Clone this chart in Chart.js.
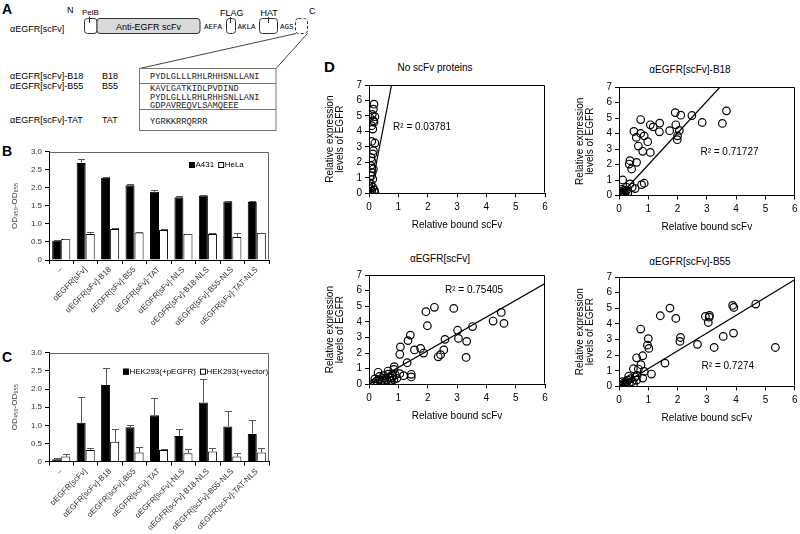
<!DOCTYPE html>
<html><head><meta charset="utf-8">
<script src="https://cdn.jsdelivr.net/npm/chart.js@4.4.1/dist/chart.umd.min.js"></script>
<style>
html,body{margin:0;padding:0;background:#fff;overflow:hidden}
#page{position:relative;width:800px;height:534px;font-family:'Liberation Sans',Arial,sans-serif;overflow:hidden}
canvas{position:absolute}
.ttl{position:absolute;font-size:10px;line-height:1;white-space:nowrap;transform:translateX(-50%);color:#000}
</style></head><body><div id="page">
<svg width="800" height="534" style="position:absolute;left:0;top:0" font-family="'Liberation Sans',Arial,sans-serif">
  <text x="2" y="14" font-size="14" font-weight="bold">A</text>
  <text x="2" y="156" font-size="14" font-weight="bold">B</text>
  <text x="2" y="362" font-size="14" font-weight="bold">C</text>
  <text x="324" y="72" font-size="15" font-weight="bold">D</text>
  <text x="67" y="13.2" font-size="9">N</text>
  <text x="82" y="15.2" font-size="8">PelB</text>
  <text x="220" y="16.2" font-size="9">FLAG</text>
  <text x="260.5" y="16.2" font-size="9">HAT</text>
  <text x="309" y="14.2" font-size="9">C</text>
  <text x="10" y="31.7" font-size="9">αEGFR[scFv]</text>
  <rect x="84.5" y="18.5" width="12.5" height="15" rx="3" fill="#fff" stroke="#333"/>
  <rect x="97" y="18.5" width="103" height="15" rx="3" fill="#d9d9d9" stroke="#333"/>
  <text x="148.5" y="29.5" font-size="9" text-anchor="middle">Anti-EGFR scFv</text>
  <text x="204" y="29.2" font-size="7.5" font-family="'Liberation Mono','Courier New',monospace">AEFA</text>
  <rect x="226.5" y="18.5" width="9" height="15" rx="3" fill="#fff" stroke="#333"/>
  <text x="237.5" y="29.2" font-size="7.5" font-family="'Liberation Mono','Courier New',monospace">AKLA</text>
  <rect x="259.5" y="18.5" width="18" height="15" rx="3" fill="#fff" stroke="#333"/>
  <text x="280" y="29.2" font-size="7.5" font-family="'Liberation Mono','Courier New',monospace">AGS</text>
  <rect x="295.5" y="18.5" width="12" height="15" rx="3" fill="none" stroke="#333" stroke-dasharray="3,2"/>
  <line x1="89.5" y1="16.5" x2="89.5" y2="23" stroke="#333"/>
  <line x1="230.5" y1="17" x2="230.5" y2="23" stroke="#333"/>
  <line x1="268.5" y1="17" x2="268.5" y2="23" stroke="#333"/>
  <line x1="296" y1="33.5" x2="139.5" y2="68.5" stroke="#444"/>
  <line x1="307.5" y1="33.5" x2="276" y2="68.5" stroke="#444"/>
  <rect x="139.5" y="68.5" width="136.5" height="62" fill="#fff" stroke="#777"/>
  <line x1="139.5" y1="83.5" x2="276" y2="83.5" stroke="#777"/>
  <line x1="139.5" y1="109.5" x2="276" y2="109.5" stroke="#777"/>
  <text x="10" y="79.2" font-size="9">αEGFR[scFv]-B18</text>
  <text x="102" y="79.2" font-size="9">B18</text>
  <text x="10" y="88.7" font-size="9">αEGFR[scFv]-B55</text>
  <text x="102" y="88.7" font-size="9">B55</text>
  <text x="10" y="123.2" font-size="9">αEGFR[scFv]-TAT</text>
  <text x="102" y="123.2" font-size="9">TAT</text>
  <g font-size="8.7" font-family="'Liberation Mono','Courier New',monospace" fill="#222">
    <text x="150" y="79">PYDLGLLLRHLRHHSNLLANI</text>
    <text x="150" y="91.3">KAVLGATKIDLPVDIND</text>
    <text x="150" y="99.7">PYDLGLLLRHLRHHSNLLANI</text>
    <text x="150" y="107.5">GDPAVREQVLSAMQEEE</text>
    <text x="150" y="123.7">YGRKKRRQRRR</text>
  </g>
</svg>
<canvas id="cB"></canvas>
<canvas id="cC"></canvas>
<canvas id="d1"></canvas>
<canvas id="d2"></canvas>
<canvas id="d3"></canvas>
<canvas id="d4"></canvas>
<div class="ttl" style="left:435px;top:62.8px">No scFv proteins</div>
<div class="ttl" style="left:690px;top:65px">αEGFR[scFv]-B18</div>
<div class="ttl" style="left:440px;top:254.4px">αEGFR[scFv]</div>
<div class="ttl" style="left:690px;top:256.8px">αEGFR[scFv]-B55</div>
</div>
<script>
// ---------------- DATA ----------------
const categoriesB = ['–','αEGFR[sFv]','αEGFR[sFv]-B18','αEGFR[sFv]-B55','αEGFR[sFv]-TAT','αEGFR[sFv]-NLS','αEGFR[sFv]-B18-NLS','αEGFR[sFv]-B55-NLS','αEGFR[sFv]-TAT-NLS'];
const a431Values = [0.535, 2.69, 2.28, 2.07, 1.89, 1.74, 1.79, 1.62, 1.61];
const a431Errors = [0.01, 0.11, 0.03, 0.03, 0.05, 0.04, 0.01, 0.01, 0.02];
const helaValues = [0.58, 0.72, 0.86, 0.76, 0.83, 0.72, 0.72, 0.64, 0.75];
const helaErrors = [0.01, 0.06, 0.04, 0.01, 0.02, 0.01, 0.04, 0.10, 0.01];

const categoriesC = ['–','αEGFR[scFv]','αEGFR[scFv]-B18','αEGFR[scFv]-B55','αEGFR[scFv]-TAT','αEGFR[scFv]-NLS','αEGFR[scFv]-B18-NLS','αEGFR[scFv]-B55-NLS','αEGFR[scFv]-TAT-NLS'];
const pegfrValues = [0.07, 1.07, 2.11, 0.95, 1.28, 0.71, 1.63, 0.97, 0.76];
const pegfrErrors = [0.02, 0.72, 0.48, 0.07, 0.48, 0.18, 0.65, 0.42, 0.39];
const vectorValues = [0.14, 0.32, 0.55, 0.25, 0.32, 0.23, 0.28, 0.14, 0.25];
const vectorErrors = [0.08, 0.06, 0.34, 0.15, 0.04, 0.11, 0.10, 0.11, 0.14];

const odTickStep = 0.5;
const seriesNamesB = ['A431', 'HeLa'];
const seriesNamesC = ['HEK293(+pEGFR)', 'HEK293(+vector)'];

const pointsNoScFv = [[0.17,5.76],[0.15,5.44],[0.11,5.1],[0.2,4.95],[0.03,4.9],[0.15,4.69],[0.09,4.37],[0.13,4.15],[0.09,3.35],[0.2,3.25],[0.15,2.75],[0.13,2.54],[0.09,2.1],[0.06,1.78],[0.15,1.57],[0.09,1.14],[0.13,0.92],[0.07,0.6],[0.13,0.39],[0.18,0.22],[0.2,0.06],[0.03,0.06],[0.09,0.15],[0.05,0.3],[0.11,1.35],[0.07,2.3],[0.17,4.6],[0.04,0.02]];
const pointsB18 = [[3.67,5.46],[3.53,4.65],[2.84,4.71],[2.49,5.16],[1.92,5.35],[2.11,5.18],[1.94,4.56],[2.06,4.2],[1.73,4.18],[2.0,3.85],[1.99,3.6],[1.39,4.67],[1.17,4.43],[1.07,4.56],[1.38,4.11],[0.74,4.9],[0.51,4.13],[0.74,4.0],[0.86,3.85],[0.59,3.75],[0.98,3.47],[0.66,3.19],[0.81,2.85],[1.07,2.78],[0.375,2.25],[0.35,2.03],[0.6,2.14],[0.43,1.71],[0.125,1.0],[0.86,0.79],[0.77,0.7],[0.375,0.75],[0.45,0.53],[0.26,0.53],[0.55,0.45],[0.05,0.05],[0.08,0.1],[0.1,0.15],[0.12,0.05],[0.15,0.2],[0.2,0.1],[0.06,0.25],[0.25,0.3],[0.03,0.02],[0.18,0.35],[0.3,0.15],[0.1,0.4]];
const pointsScFv = [[2.89,4.86],[2.23,4.93],[1.94,4.65],[1.99,3.75],[4.51,4.6],[4.23,4.05],[4.6,3.9],[3.53,3.7],[3.02,3.46],[3.05,2.94],[2.59,2.88],[3.33,2.75],[2.55,2.2],[2.44,1.9],[2.36,1.76],[3.31,1.72],[1.41,3.15],[1.33,2.8],[1.07,2.4],[1.05,1.92],[1.55,2.2],[1.76,2.3],[1.86,2.0],[1.3,1.38],[0.86,1.13],[1.44,0.64],[1.44,0.47],[1.18,0.55],[1.05,0.68],[0.31,0.77],[0.65,0.85],[0.85,0.95],[0.95,0.38],[0.78,0.4],[0.2,0.1],[0.25,0.2],[0.3,0.05],[0.35,0.3],[0.4,0.15],[0.45,0.25],[0.5,0.4],[0.55,0.1],[0.6,0.3],[0.7,0.45],[0.75,0.25],[0.2,0.35],[0.15,0.05],[0.8,0.55],[0.9,0.6],[0.65,0.65],[0.5,0.55],[0.35,0.5],[0.85,0.3]];
const pointsB55 = [[5.34,2.49],[4.67,5.27],[3.88,5.18],[3.92,5.05],[3.91,3.41],[3.56,3.2],[3.25,2.49],[3.09,4.54],[2.95,4.48],[3.08,4.43],[3.05,4.09],[2.68,2.69],[2.1,3.13],[2.08,2.88],[1.94,4.35],[1.74,5.01],[1.41,4.52],[1.57,1.49],[0.74,3.67],[1.0,3.05],[0.97,2.64],[1.02,2.43],[0.81,1.96],[0.6,1.83],[0.75,1.39],[0.49,1.13],[0.66,1.11],[1.11,0.79],[0.86,0.96],[0.81,0.53],[0.62,0.7],[0.33,0.65],[0.05,0.05],[0.1,0.1],[0.15,0.2],[0.2,0.15],[0.25,0.3],[0.3,0.4],[0.35,0.2],[0.4,0.5],[0.45,0.3],[0.5,0.15],[0.55,0.6],[0.6,0.4],[0.12,0.3],[0.08,0.02],[0.2,0.05]];

const trendNoScFv = [[0.05,0],[0.77,7]];
const trendB18 = [[0.03,0],[3.45,7]];
const trendScFv = [[0,0],[6,6.45]];
const trendB55 = [[0,0],[6,6.82]];

const r2Texts = ['R² = 0.03781','R² = 0.71727','R² = 0.75405','R² = 0.7274'];
const xTitleD = 'Relative bound scFv';
const yTitleD = ['Relative expression','levels of EGFR'];
const yTitleOD = 'OD₄₅₀-OD₆₅₅';

// ---------------- RENDER ----------------
const FAM = "'Liberation Sans', Arial, sans-serif";
Chart.defaults.font.family = FAM;
Chart.defaults.color = '#000';
Chart.defaults.animation = false;

function setupCanvas(id, left, top, w, h){
  const c = document.getElementById(id);
  c.width = w; c.height = h;
  c.style.left = left+'px'; c.style.top = top+'px';
  c.style.width = w+'px'; c.style.height = h+'px';
  return c;
}
function makeFrame(color){
  return {id:'frame', afterDatasetsDraw(chart){
    const a = chart.chartArea, ctx = chart.ctx;
    const L = Math.round(a.left)+0.5, R = Math.round(a.right)-0.5, T = Math.round(a.top)+0.5, B = Math.round(a.bottom)-0.5;
    ctx.save(); ctx.strokeStyle = color; ctx.lineWidth = 1; ctx.beginPath();
    ctx.moveTo(L,T); ctx.lineTo(R,T); ctx.lineTo(R,B);
    ctx.stroke(); ctx.restore();
  }};
}
function makeErrorBars(errs, color, cap){
  return {id:'errorBars', afterDatasetsDraw(chart){
    const ctx = chart.ctx, ys = chart.scales.y;
    ctx.save(); ctx.strokeStyle = color; ctx.lineWidth = 1;
    errs.forEach((arr, di) => {
      const meta = chart.getDatasetMeta(di), vals = chart.data.datasets[di].data;
      meta.data.forEach((bar, i) => {
        const e = arr[i]; if (!e) return;
        const x = Math.round(bar.x)+0.5;
        const y0 = ys.getPixelForValue(vals[i]);
        const y1 = Math.round(ys.getPixelForValue(vals[i]+e))+0.5;
        ctx.beginPath(); ctx.moveTo(x,y0); ctx.lineTo(x,y1);
        ctx.moveTo(x-cap,y1); ctx.lineTo(x+cap,y1); ctx.stroke();
      });
    });
    ctx.restore();
  }};
}
function makeLegend(dx, dy, size){
  return {id:'customLegend', afterDraw(chart){
    const ctx = chart.ctx, a = chart.chartArea;
    let x = a.left+dx; const y = a.top+dy;
    ctx.save(); ctx.font = size+'px '+FAM; ctx.textBaseline = 'middle'; ctx.textAlign = 'left';
    chart.data.datasets.forEach(ds => {
      ctx.fillStyle = ds.backgroundColor; ctx.fillRect(x, y-3, 6, 6);
      ctx.strokeStyle = '#000'; ctx.lineWidth = 1; ctx.strokeRect(x+0.5, y-2.5, 5, 5);
      x += 6.5; ctx.fillStyle = '#000'; ctx.fillText(ds.label, x, y);
      x += ctx.measureText(ds.label).width + 4;
    });
    ctx.restore();
  }};
}
function makeNote(text, vx, vy){
  return {id:'note', afterDatasetsDraw(chart){
    const ctx = chart.ctx;
    const x = chart.scales.x.getPixelForValue(vx), y = chart.scales.y.getPixelForValue(vy);
    ctx.save(); ctx.font = '10px '+FAM; ctx.fillStyle = '#000'; ctx.textBaseline = 'middle'; ctx.textAlign = 'left';
    ctx.fillText(text, x, y); ctx.restore();
  }};
}

function barChart(id, left, top, w, h, padTop, xH, cats, names, vals, errs, legendPos, legendSize){
  const c = setupCanvas(id, left, top, w, h);
  new Chart(c, {
    type:'bar',
    data:{labels:cats, datasets:[
      {label:names[0], data:vals[0], backgroundColor:'#000', borderColor:'#000', borderWidth:1, categoryPercentage:0.74, barPercentage:1},
      {label:names[1], data:vals[1], backgroundColor:'#fff', borderColor:'#000', borderWidth:1, categoryPercentage:0.74, barPercentage:1}
    ]},
    options:{
      responsive:false, animation:false, devicePixelRatio:1,
      layout:{padding:{top:padTop, right:3, left:0, bottom:0}},
      plugins:{legend:{display:false}, tooltip:{enabled:false}},
      scales:{
        x:{grid:{offset:true, drawOnChartArea:false, tickLength:4, color:'#000'}, border:{color:'#000'},
           ticks:{autoSkip:false, maxRotation:45, minRotation:45, font:{size:8}, color:'#333', padding:1},
           afterFit:s=>{s.height = xH;}},
        y:{min:0, max:3, ticks:{stepSize:odTickStep, font:{size:8}, color:'#333', padding:3},
           grid:{drawOnChartArea:false, tickLength:4, color:'#000'}, border:{color:'#000'},
           title:{display:true, text:yTitleOD, font:{size:8, lineHeight:1}, color:'#333', padding:{top:11, bottom:0}},
           afterFit:s=>{s.width = 49;}}
      }
    },
    plugins:[makeFrame('#666'), makeErrorBars(errs, '#555', 3.5), makeLegend(legendPos[0], legendPos[1], legendSize)]
  });
}

barChart('cB', 0, 140, 272, 210, 11.7, 90, categoriesB, seriesNamesB, [a431Values, helaValues], [a431Errors, helaErrors], [140, 13.3], 8);
barChart('cC', 0, 340, 272, 194, 12.7, 72.3, categoriesC, seriesNamesC, [pegfrValues, vectorValues], [pegfrErrors, vectorErrors], [74, 19], 8);

function scatterChart(id, plot, pts, trend, note, notePos){
  const [pl, pt, pr, pb] = plot;
  const yW = 51, padT = 10, padR = 10, xH = 42.5;
  const left = pl - yW, top = pt - padT, w = Math.round(pr - pl + yW + padR), h = Math.round(pb - pt + padT + xH);
  const c = setupCanvas(id, left, top, w, h);
  const xHeight = h - padT - (pb - pt);
  new Chart(c, {
    type:'scatter',
    data:{datasets:[
      {data:pts.map(p=>({x:p[0], y:p[1]})), pointRadius:3.8, pointBorderWidth:1.2, pointBackgroundColor:'rgba(255,255,255,0)', pointBorderColor:'#000', showLine:false},
      {type:'line', data:trend.map(p=>({x:p[0], y:p[1]})), borderColor:'#000', borderWidth:1.2, pointRadius:0, showLine:true, fill:false}
    ]},
    options:{
      responsive:false, animation:false, devicePixelRatio:1,
      layout:{padding:{top:padT, right:w - yW - (pr - pl), left:0, bottom:0}},
      plugins:{legend:{display:false}, tooltip:{enabled:false}},
      scales:{
        x:{type:'linear', min:0, max:6, ticks:{stepSize:1, font:{size:10}, color:'#000', padding:4},
           grid:{drawOnChartArea:false, tickLength:4, color:'#000'}, border:{color:'#000'},
           title:{display:true, text:xTitleD, font:{size:10, lineHeight:1.07}, color:'#000', padding:{top:0, bottom:5.65}},
           afterFit:s=>{s.height = xHeight;}},
        y:{type:'linear', min:0, max:7, ticks:{stepSize:1, font:{size:10}, color:'#000', padding:3},
           grid:{drawOnChartArea:false, tickLength:4, color:'#000'}, border:{color:'#000'},
           title:{display:true, text:yTitleD, font:{size:10, lineHeight:1.07}, color:'#000', padding:{top:6.65, bottom:0}},
           afterFit:s=>{s.width = yW;}}
      }
    },
    plugins:[makeFrame('#000'), makeNote(note, notePos[0], notePos[1])]
  });
}

scatterChart('d1', [369, 84.5, 545, 192.8], pointsNoScFv, trendNoScFv, r2Texts[0], [0.82, 4.28]);
scatterChart('d2', [619.3, 86.5, 795, 195], pointsB18, trendB18, r2Texts[1], [2.78, 2.78]);
scatterChart('d3', [369, 274.7, 545, 384], pointsScFv, trendScFv, r2Texts[2], [2.59, 6.04]);
scatterChart('d4', [619.3, 277.3, 795, 386.7], pointsB55, trendB55, r2Texts[3], [2.82, 1.28]);
</script>
</body></html>
